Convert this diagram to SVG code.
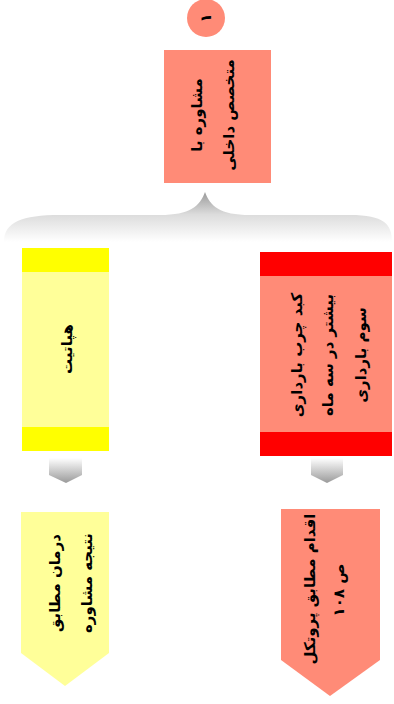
<svg xmlns="http://www.w3.org/2000/svg" width="394" height="704" viewBox="0 0 394 704">
<defs>
<linearGradient id="braceG" x1="0" y1="192" x2="0" y2="242" gradientUnits="userSpaceOnUse">
<stop offset="0" stop-color="#9a9a9a"/>
<stop offset="0.45" stop-color="#dcdcdc"/>
<stop offset="1" stop-color="#ffffff"/>
</linearGradient>
<linearGradient id="chevG" x1="0" y1="0" x2="0" y2="1">
<stop offset="0" stop-color="#ffffff"/>
<stop offset="1" stop-color="#9a9a9a"/>
</linearGradient>
</defs>
<style>
.t{font-family:"DejaVu Sans",sans-serif;font-weight:bold;font-size:15px;fill:#000;text-anchor:middle;dominant-baseline:central}
.salmon{fill:#FF8B77}
.pale{fill:#FFFF99}
.yel{fill:#FFFF00}
.red{fill:#FF0000}
</style>
<rect width="394" height="704" fill="#fff"/>
<g id="connectors">
<path d="M4,242 C4,222 22,215 60,215 L160,215 C190,215 200,206 205,192 C210,206 220,215 250,215 L350,215 C384,215 392,224 392,242 Z" fill="url(#braceG)"/>
<path d="M49,458 L82,458 L82,475 L66,483 L49,475 Z" fill="url(#chevG)"/>
<path d="M311,458 L343,458 L343,475 L327,483 L311,475 Z" fill="url(#chevG)"/>
</g>
<g id="n-num">
<circle cx="206" cy="18" r="19" class="salmon"/>
<text class="t" transform="translate(206,18) rotate(-90)">۱</text>
</g>
<g id="n-consult">
<rect x="164" y="50" width="107" height="133" class="salmon"/>
<text class="t" transform="translate(197,115) rotate(-90)">مشاوره با</text>
<text class="t" transform="translate(229,115) rotate(-90)">متخصص داخلی</text>
</g>
<g id="n-hepatitis">
<rect x="22" y="248" width="87" height="203" class="pale"/>
<rect x="22" y="248" width="87" height="24" class="yel"/>
<rect x="22" y="427" width="87" height="24" class="yel"/>
<text class="t" transform="translate(67,349) rotate(-90)">هپاتیت</text>
</g>
<g id="n-fatty">
<rect x="260" y="252" width="132" height="204" class="salmon"/>
<rect x="260" y="252" width="132" height="24" class="red"/>
<rect x="260" y="432" width="132" height="24" class="red"/>
<text class="t" transform="translate(297,355) rotate(-90)">کبد چرب بارداری</text>
<text class="t" transform="translate(328,355) rotate(-90)">بیشتر در سه ماه</text>
<text class="t" transform="translate(361,355) rotate(-90)">سوم بارداری</text>
</g>
<g id="n-treat">
<path d="M21,512 L109,512 L109,653 L65,686 L21,653 Z" class="pale"/>
<text class="t" transform="translate(55,583) rotate(-90)">درمان مطابق</text>
<text class="t" transform="translate(87,583) rotate(-90)">نتیجه مشاوره</text>
</g>
<g id="n-protocol">
<path d="M281,509 L380,509 L380,660 L330,696 L281,660 Z" class="salmon"/>
<text class="t" transform="translate(310,589) rotate(-90)">اقدام مطابق پروتکل</text>
<text class="t" transform="translate(339,590) rotate(-90)">ص ۱۰۸</text>
</g>
</svg>
